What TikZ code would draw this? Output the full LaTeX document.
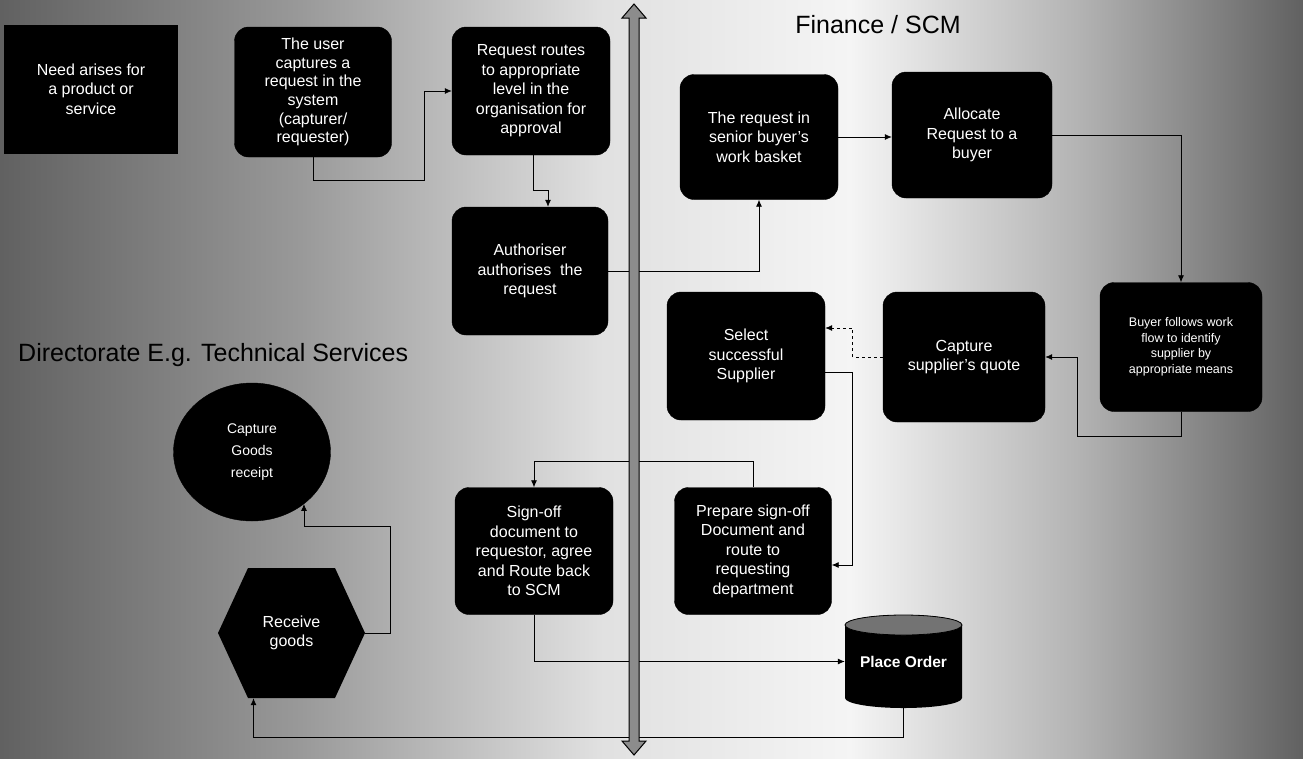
\documentclass[tikz,border=0pt]{standalone}
\usepackage{fontspec}
\setmainfont{Liberation Sans}
\usetikzlibrary{arrows.meta,shapes.geometric,calc}
\begin{document}
\begin{tikzpicture}[x=1pt,y=-1pt,
  box/.style={draw=black, fill=black, rounded corners=14pt, text=white, align=center,
    font=\fontsize{16}{19.5}\selectfont, inner sep=2pt},
  plain/.style={inner sep=0pt, text=white, align=center, font=\fontsize{16}{19.5}\selectfont},
  arr/.style={draw=black, line width=0.8pt, -{Latex[length=7pt,width=6pt]}},
  bigtitle/.style={font=\fontsize{25}{28}\selectfont, text=black, inner sep=0pt}]
\useasboundingbox (0,0) rectangle (1303,758);
% background
\fill[left color=black!62, right color=black!40] (0,0) rectangle (300.5,758);
\fill[left color=black!40, right color=black!12] (300,0) rectangle (600.5,758);
\fill[left color=black!12, right color=black!4] (600,0) rectangle (850.5,758);
\fill[left color=black!4, right color=black!30] (850,0) rectangle (1080.5,758);
\fill[left color=black!30, right color=black!62] (1080,0) rectangle (1303,758);

% titles
\node[bigtitle] (fin) at (878,25) {Finance / SCM};
\node[bigtitle, anchor=west] (dir) at (18,355) {Directorate E.g. Technical Services};

% nodes
\node[box, rounded corners=0pt, minimum width=173pt, minimum height=128pt] (need) at (91,89) {Need arises for\\a product or\\service};
\node[box, minimum width=157pt, minimum height=130pt, font=\fontsize{16}{18.7}\selectfont] (user) at (313,92) {The user\\captures a\\request in the\\system\\(capturer/\\requester)};
\node[box, minimum width=158pt, minimum height=128pt] (route) at (531,91) {Request routes\\to appropriate\\level in the\\organisation for\\approval};
\node[box, minimum width=158pt, minimum height=125pt] (senior) at (759,137) {The request in\\senior buyer's\\work basket};
\node[box, minimum width=160pt, minimum height=126pt] (alloc) at (972,135) {Allocate\\Request to a\\buyer};
\node[box, minimum width=156pt, minimum height=128pt] (auth) at (530,271) {Authoriser\\authorises\ \ the\\request};
\node[box, minimum width=158pt, minimum height=128pt] (select) at (746,356) {Select\\successful\\Supplier};
\node[box, minimum width=162pt, minimum height=130pt] (quote) at (964,357) {Capture\\supplier's quote};
\node[box, minimum width=162pt, minimum height=129pt, font=\fontsize{12.5}{15.5}\selectfont] (buyer) at (1181,347) {Buyer follows work\\flow to identify\\supplier by\\appropriate means};
\node[box, minimum width=158pt, minimum height=127pt] (signoff) at (534,551) {Sign-off\\document to\\requestor, agree\\and Route back\\to SCM};
\node[box, minimum width=157pt, minimum height=127pt] (prepare) at (753,551) {Prepare sign-off\\Document and\\route to\\requesting\\department};
\node[draw=black, fill=black, ellipse, text=white, align=center, font=\fontsize{14}{22}\selectfont, minimum width=157pt, minimum height=138pt, inner sep=0pt] (goods) at (252,452) {Capture\\Goods\\receipt};

% hexagon (Receive goods)
\fill[black] (218,633) -- (248,568) -- (335,568) -- (365,633) -- (335,698) -- (248,698) -- cycle;
\node[plain, minimum width=147pt, minimum height=130pt] (recv) at (291.5,633) {Receive\\goods};

% cylinder (Place Order)
\fill[black] (845,625) -- (845,698) arc[start angle=180, end angle=360, x radius=58.5pt, y radius=10pt] -- (962,625) arc[start angle=0, end angle=180, x radius=58.5pt, y radius=10pt] -- cycle;
\draw[black, fill=black!55, line width=0.8pt] (903.5,625) ellipse [x radius=58.5pt, y radius=10pt];
\node[plain, minimum width=117pt, minimum height=93pt, font=\bfseries\fontsize{15.5}{19}\selectfont] (order) at (903.5,661.5) {\raisebox{-6pt}{Place Order}};

% connectors
\draw[arr] (user.south) -- ++(0,23) -| ([xshift=-27pt]route.west) -- (route.west);
\draw[arr] ([xshift=2pt]route.south) -- ++(0,35) -| ([xshift=18pt]auth.north);
\draw[arr] (auth.east) -| (senior.south);
\draw[arr] (senior.east) -- (senior.east -| alloc.west);
\draw[arr] (alloc.east) -| (buyer.north);
\draw[arr] (buyer.south) -- ++(0,25) -| ([xshift=32pt]quote.east) -- (quote.east);
\draw[arr, dashed] (quote.west) -- ++(-30,0) |- ([yshift=28pt]select.east);
\draw[arr] ([yshift=-16pt]select.east) -- ++(27,0) |- ([yshift=-14pt]prepare.east);
\draw[arr] (prepare.north) -- ++(0,-26) -| (signoff.north);
\draw[arr] (signoff.south) |- (order.west);
\draw[arr] (order.south) -- ++(0,29) -| ([xshift=-38pt]recv.south);
\draw[arr] (recv.east) -- ++(25,0) |- ([yshift=-22pt]goods.-45) -- (goods.-45);

% vertical double arrow (boundary)
\draw[black, fill=black!45, line width=1pt] (634,4) -- (646,18) -- (639,18) -- (639,741) -- (646,741) -- (634,755) -- (622,741) -- (629,741) -- (629,18) -- (622,18) -- cycle;
\end{tikzpicture}
\end{document}
